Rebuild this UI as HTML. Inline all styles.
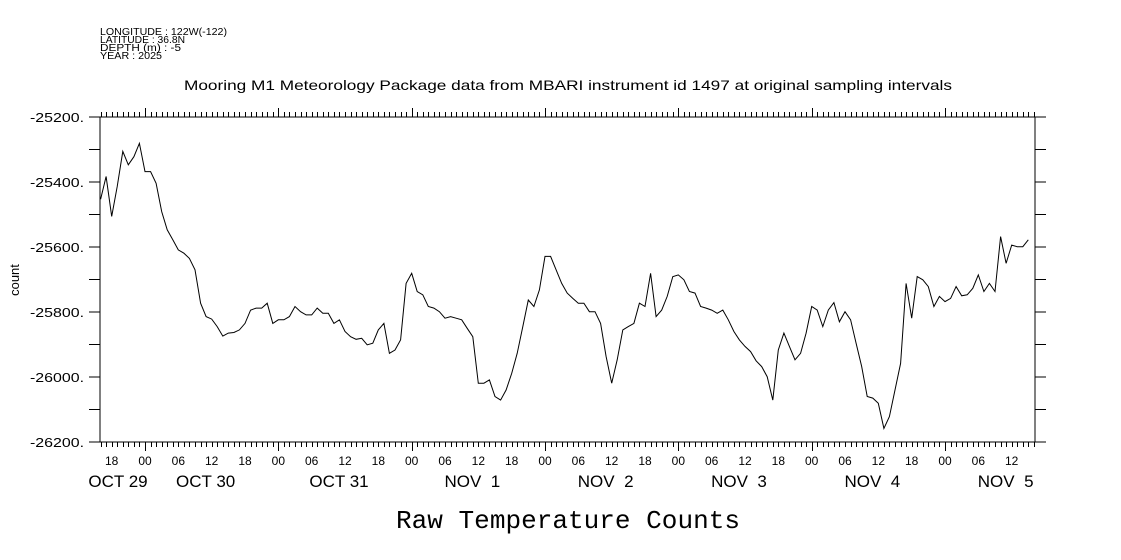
<!DOCTYPE html>
<html><head><meta charset="utf-8"><style>
html,body{margin:0;padding:0;background:#fff;}
svg{display:block;}
text{font-family:"Liberation Sans",sans-serif;fill:#000;}
</style></head><body>
<svg id="chart" width="1121" height="560" viewBox="0 0 1121 560" xmlns="http://www.w3.org/2000/svg">
<g font-size="10">
<text x="100" y="35" textLength="127" lengthAdjust="spacingAndGlyphs">LONGITUDE : 122W(-122)</text>
<text x="100" y="43" textLength="85" lengthAdjust="spacingAndGlyphs">LATITUDE : 36.8N</text>
<text x="100" y="51" textLength="81" lengthAdjust="spacingAndGlyphs">DEPTH (m) : -5</text>
<text x="100" y="59" textLength="62" lengthAdjust="spacingAndGlyphs">YEAR : 2025</text>
</g>
<text x="184" y="90" textLength="768" lengthAdjust="spacingAndGlyphs" font-size="14">Mooring M1 Meteorology Package data from MBARI instrument id 1497 at original sampling intervals</text>
<text transform="translate(19,280) rotate(-90)" text-anchor="middle" font-size="13">count</text>
<text x="396" y="528" textLength="344" lengthAdjust="spacingAndGlyphs" font-size="26" style="font-family:'Liberation Mono',monospace">Raw Temperature Counts</text>
<rect x="100" y="117" width="935" height="325" fill="none" stroke="#000" stroke-width="1"/>
<g id="axes"></g>
<path id="line" fill="none" stroke="#000" stroke-width="1"/>
</svg>
<script>
// hours since Oct 29 00:00, first sample
const startHour = 16;
const counts = [
-25453,-25383,-25506,-25414,-25306,-25347,-25322,-25281,-25368,-25368,-25404,-25491,-25547,-25578,-25609,-25619,-25635,-25670,-25773,-25814,-25822,-25845,-25874,-25865,-25863,-25855,-25835,-25794,-25788,-25788,-25773,-25835,-25824,-25824,-25814,-25783,-25799,-25809,-25809,-25788,-25804,-25804,-25835,-25824,-25860,-25876,-25884,-25881,-25901,-25896,-25855,-25835,-25927,-25917,-25886,-25712,-25681,
-25737,-25747,-25783,-25788,-25799,-25819,-25814,-25819,-25824,-25850,-25876,-26019,-26019,-26009,-26060,-26071,-26040,-25989,-25927,-25845,-25763,-25783,-25732,-25629,-25629,-25670,-25712,-25742,-25758,-25773,-25773,-25799,-25799,-25835,-25937,-26019,-25947,-25855,-25845,-25835,-25773,-25783,-25681,-25814,-25794,-25752,-25691,-25686,-25701,-25737,-25742,-25783,-25788,-25794,-25804,
-25794,-25824,-25860,-25886,-25906,-25922,-25950,-25968,-25999,-26071,-25917,-25865,-25906,-25947,-25927,-25865,-25783,-25794,-25845,-25794,-25771,-25830,-25799,-25824,-25896,-25968,-26060,-26065,-26081,-26158,-26122,-26040,-25958,-25712,-25819,-25691,-25701,-25722,-25783,-25752,-25768,-25758,-25722,-25750,-25747,-25727,-25686,-25737,-25712,-25737,-25568,-25650,-25594,-25599,-25599,-25578
];
const yTicks = [-25200,-25400,-25600,-25800,-26000,-26200];
const hourLabels = ["18","00","06","12","18","00","06","12","18","00","06","12","18","00","06","12","18","00","06","12","18","00","06","12","18","00","06","12"];
const hourLabelStart = 18;
const dayLabels = ["OCT 29","OCT 30","OCT 31","NOV  1","NOV  2","NOV  3","NOV  4","NOV  5"];

const L=100,R=1035,T=117,B=442;
const xOf = h => 145 + (h-24)*(400/72);
const yOf = v => T + (-25200 - v)*(B-T)/1000;
const NS="http://www.w3.org/2000/svg";
const axes=document.getElementById('axes');
function mk(tag,attrs){const e=document.createElementNS(NS,tag);for(const k in attrs)e.setAttribute(k,attrs[k]);axes.appendChild(e);return e;}

for(let v=-25200; v>=-26200; v-=100){
  const y=yOf(v);
  const a=mk('line',{x1:L-11,x2:L,y1:y,y2:y,stroke:'#000'});
  
  
  const b=mk('line',{x1:R,x2:R+11,y1:y,y2:y,stroke:'#000'});
  
  
}
yTicks.forEach(v=>{
  const t=mk('text',{x:30,y:yOf(v)+5,'font-size':13,textLength:54,lengthAdjust:'spacingAndGlyphs'});
  t.textContent=v+'.';
  
  
});
const h0=Math.ceil((L-145)/(400/72)+24), h1=Math.floor((R-145)/(400/72)+24);
for(let h=h0; h<=h1; h++){
  const x=Math.round(xOf(h))+0.5, major=(h%24===0), len=major?9:5;
  const a=mk('line',{x1:x,x2:x,y1:T-len,y2:T,stroke:'#000'});
  
  
  const b=mk('line',{x1:x,x2:x,y1:B,y2:B+len,stroke:'#000'});
  
  
}
hourLabels.forEach((s,i)=>{
  const h=hourLabelStart+i*6;
  const t=mk('text',{x:xOf(h),y:465,'text-anchor':'middle','font-size':12});
  t.textContent=s;
  
  
});
dayLabels.forEach((s,i)=>{
  let x = i===0 ? 118 : xOf(i*24+12)-6;
  const t=mk('text',{x:x,y:487,'text-anchor':'middle','font-size':17});
  t.setAttribute('xml:space','preserve');
  t.style.whiteSpace='pre';
  t.textContent=s;
  
  
});
let d='';
counts.forEach((v,i)=>{d+=(i?'L':'M')+xOf(startHour+i).toFixed(1)+','+yOf(v).toFixed(1);});
document.getElementById('line').setAttribute('d',d);
</script>
</body></html>
